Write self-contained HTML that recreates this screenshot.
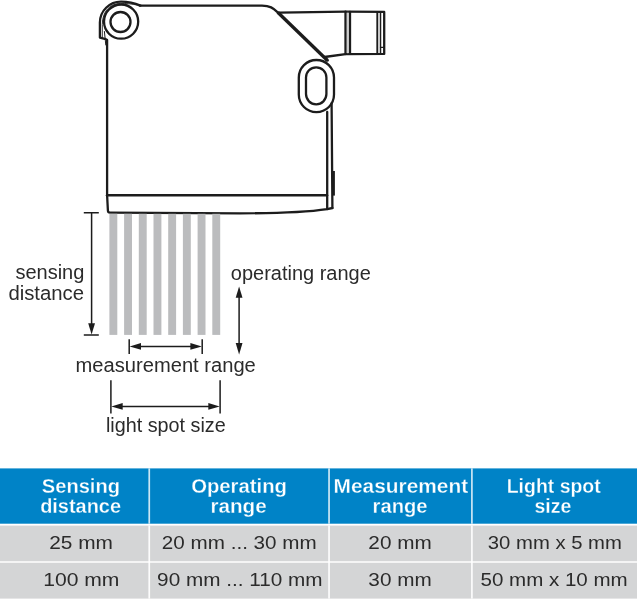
<!DOCTYPE html>
<html lang="en">
<head>
<meta charset="utf-8">
<title>Sensor ranges</title>
<style>
html,body{margin:0;padding:0;background:#fff;}
body{width:637px;height:600px;overflow:hidden;position:relative;font-family:"Liberation Sans",sans-serif;}
svg{position:absolute;left:0;top:0;display:block;will-change:transform;}
svg text{font-family:"Liberation Sans",sans-serif;font-size:20px;fill:#2b2b2b;}
table{position:absolute;left:0;top:468px;will-change:transform;width:637px;border-collapse:separate;border-spacing:0;table-layout:fixed;font-family:"Liberation Sans",sans-serif;color:#2b2b2b;}
th,td{padding:0;text-align:center;vertical-align:top;white-space:nowrap;overflow:visible;box-sizing:border-box;}
thead th{background:transparent;color:#fff;-webkit-text-stroke:0.28px #0083c7;font-weight:bold;font-size:19.5px;height:57px;line-height:20.3px;padding-top:8.2px;border-bottom:1px solid transparent;border-left:1px solid transparent;}
tbody td{background:transparent;font-size:19px;height:37px;line-height:35px;border-bottom:1px solid transparent;border-left:1px solid transparent;}
tbody tr:last-child td{height:36px;border-bottom:none;}
th:first-child,td:first-child{border-left:none;padding-left:13px;}
.s{display:inline-block;transform-origin:50% 50%;}
</style>
</head>
<body>
<svg width="637" height="600" viewBox="0 0 637 600">
 <g fill="none" stroke="#1c1c1c" stroke-width="2.3" stroke-linecap="round" stroke-linejoin="round">
  <!-- hinge cover arcs -->
  <path d="M140.5 5.6 C134 2.8 128 1.6 121 1.6 C109.4 1.6 99.9 10.9 99.9 22.5 L99.9 37.6 L105.8 39.2"/>
  <path d="M138 5.2 C131 3.7 126 3.4 120.5 3.4 C110 3.4 102.3 11.5 102.3 24.5 L102.3 38" stroke-width="0.9"/>
  <path d="M104.4 31.5 L105.8 45" stroke-width="1"/>
  <!-- hinge circles -->
  <circle cx="121.1" cy="21.6" r="17.1"/>
  <circle cx="120.5" cy="22" r="10"/>
  <!-- body -->
  <path d="M107.1 40 L107.1 195.2 L107.9 210.5 Q108 212.7 110 212.7 L240 213.3 C280 213.3 310 211.7 327.2 209.1 L332.4 208"/>
  <path d="M107.1 195.2 L327 195.2" stroke-width="2.6"/>
  <path d="M139.5 5.6 L262 5.6 C270 5.6 273 8 278 12.6"/>
  <path d="M277.7 12.2 L327.2 60.2" stroke-width="3.3" stroke-linecap="butt"/>
  <circle cx="327.2" cy="60.2" r="1.65" fill="#1c1c1c" stroke="none"/>
  <!-- connector -->
  <path d="M279.5 12.6 L345.5 11.7 L384.2 11.9 L384.2 53.9 L345.5 54.1 L324.5 57"/>
  <path d="M345.5 11.7 L345.5 54.1"/>
  <path d="M350 11.9 L350 53.9"/>
  <path d="M347.9 12 L347.9 53.6" stroke-width="0.6" stroke="#777"/>
  <path d="M377.3 11.9 L377.3 53.9" stroke-width="1.9"/>
  <path d="M380.5 11.9 L380.5 53.9" stroke-width="1.5"/>
  <path d="M380.5 47.3 L384.2 47.3" stroke-width="1.3"/>
  <!-- slot -->
  <rect x="298.8" y="60" width="35.2" height="52.2" rx="17.6" ry="17.6" fill="#fff"/>
  <rect x="306" y="67.3" width="20.4" height="37" rx="10.2" ry="10.2"/>
  <!-- right side -->
  <path d="M327.2 112 L327.2 209"/>
  <path d="M331.6 103.5 L332.4 207.9"/>
  <path d="M333.6 171 L333.6 195.6" stroke-width="2.6" stroke-linecap="butt"/>
 </g>
 <!-- light stripes -->
 <g fill="#bbbcbe">
  <rect x="109.4" y="213.8" width="7.9" height="121.1"/>
  <rect x="124.1" y="213.8" width="7.9" height="121.1"/>
  <rect x="138.8" y="213.8" width="7.9" height="121.1"/>
  <rect x="153.5" y="213.8" width="7.9" height="121.1"/>
  <rect x="168.2" y="213.8" width="7.9" height="121.1"/>
  <rect x="182.9" y="213.8" width="7.9" height="121.1"/>
  <rect x="197.6" y="213.8" width="7.9" height="121.1"/>
  <rect x="212.3" y="213.8" width="7.9" height="121.1"/>
 </g>
 <!-- dimension lines -->
 <g fill="none" stroke="#1c1c1c" stroke-width="1.5">
  <path d="M83.8 212.8 H98.8 M83.8 334.9 H98.8 M91.6 212.8 V326"/>
  <path d="M239.1 295 V346"/>
  <path d="M129.2 339.3 V353.9 M202.2 339.3 V353.9 M137 346.4 H194"/>
  <path d="M110.9 380.2 V413.4 M220.1 380.2 V413.4 M119 406.4 H212"/>
 </g>
 <g fill="#1c1c1c">
  <path d="M91.6 334.6 L88.2 323.2 L95 323.2 Z"/>
  <path d="M239.1 286.4 L235.7 297.8 L242.5 297.8 Z"/>
  <path d="M239.1 354.4 L235.7 343 L242.5 343 Z"/>
  <path d="M129.6 346.4 L141 343 L141 349.8 Z"/>
  <path d="M201.8 346.4 L190.4 343 L190.4 349.8 Z"/>
  <path d="M111.3 406.4 L122.7 403 L122.7 409.8 Z"/>
  <path d="M219.7 406.4 L208.3 403 L208.3 409.8 Z"/>
 </g>
 <!-- table backgrounds -->
 <g shape-rendering="geometricPrecision">
  <rect x="0" y="468.4" width="637" height="55.3" fill="#0083c7"/>
  <rect x="0" y="525.6" width="637" height="73" fill="#d4d5d6"/>
  <rect x="0" y="561.2" width="637" height="1.6" fill="#fcfcfc"/>
  <g fill="#ffffff" fill-opacity="0.8">
   <rect x="148.4" y="468.4" width="1.7" height="55.3"/>
   <rect x="328.2" y="468.4" width="1.7" height="55.3"/>
   <rect x="471.05" y="468.4" width="1.7" height="55.3"/>
  </g>
  <g fill="#ffffff" fill-opacity="0.92">
   <rect x="148.4" y="525.6" width="1.7" height="73"/>
   <rect x="328.2" y="525.6" width="1.7" height="73"/>
   <rect x="471.05" y="525.6" width="1.7" height="73"/>
  </g>
 </g>
 <!-- labels -->
 <text x="15.4" y="279.3" textLength="69" lengthAdjust="spacingAndGlyphs">sensing</text>
 <text x="8.4" y="299.9" textLength="75.7" lengthAdjust="spacingAndGlyphs">distance</text>
 <text x="230.8" y="279.6" textLength="140" lengthAdjust="spacingAndGlyphs">operating range</text>
 <text x="75.6" y="372.3" textLength="180.2" lengthAdjust="spacingAndGlyphs">measurement range</text>
 <text x="105.9" y="432.2" textLength="119.8" lengthAdjust="spacingAndGlyphs">light spot size</text>
</svg>
<table>
 <colgroup><col style="width:149px"><col style="width:180px"><col style="width:142px"><col style="width:166px"></colgroup>
 <thead>
  <tr>
   <th><span class="s" style="transform:scaleX(1.03)">Sensing</span><br><span class="s" style="transform:scaleX(1.022)">distance</span></th>
   <th><span class="s" style="transform:scaleX(1.04)">Operating</span><br><span class="s" style="transform:translateX(-1px) scaleX(1.06)">range</span></th>
   <th><span class="s" style="transform:scaleX(1.07)">Measurement</span><br><span class="s" style="transform:translateX(-0.5px) scaleX(1.035)">range</span></th>
   <th><span class="s" style="transform:translateX(-0.4px) scaleX(0.997)">Light spot</span><br><span class="s" style="transform:translateX(-1.6px) scaleX(1.0)">size</span></th>
  </tr>
 </thead>
 <tbody>
  <tr><td><span class="s" style="transform:scaleX(1.098)">25 mm</span></td><td><span class="s" style="transform:scaleX(1.086)">20 mm ... 30 mm</span></td><td><span class="s" style="transform:scaleX(1.091)">20 mm</span></td><td><span class="s" style="transform:scaleX(1.066)">30 mm x 5 mm</span></td></tr>
  <tr><td><span class="s" style="transform:scaleX(1.11)">100 mm</span></td><td><span class="s" style="transform:scaleX(1.091)">90 mm ... 110 mm</span></td><td><span class="s" style="transform:scaleX(1.091)">30 mm</span></td><td><span class="s" style="transform:scaleX(1.081)">50 mm x 10 mm</span></td></tr>
 </tbody>
</table>
</body>
</html>
